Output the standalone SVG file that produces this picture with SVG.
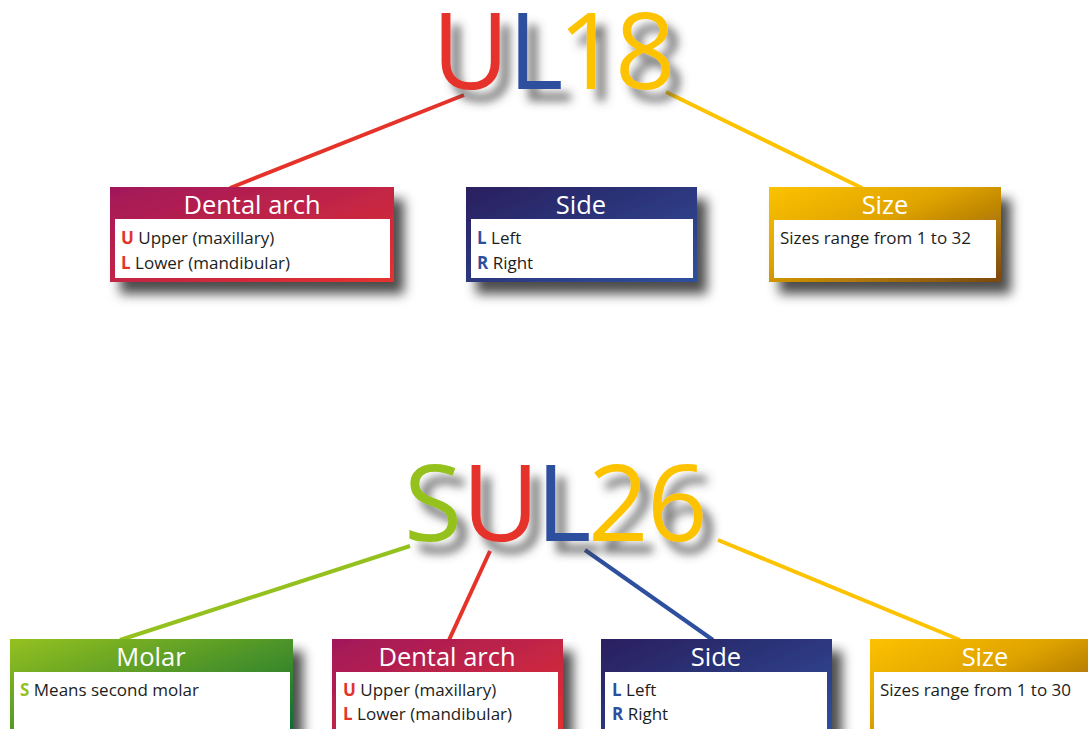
<svg xmlns="http://www.w3.org/2000/svg" width="1088" height="729" viewBox="0 0 1088 729">
<defs>
<filter id="tsh" x="-20%" y="-20%" width="150%" height="160%">
<feGaussianBlur in="SourceAlpha" stdDeviation="5"/>
<feOffset dx="10" dy="12" result="b"/>
<feFlood flood-color="#444" flood-opacity="0.75"/>
<feComposite in2="b" operator="in"/>
<feMerge><feMergeNode/><feMergeNode in="SourceGraphic"/></feMerge>
</filter>
<filter id="bsh" x="-10%" y="-10%" width="130%" height="150%">
<feGaussianBlur in="SourceAlpha" stdDeviation="6"/>
<feOffset dx="10" dy="12" result="b"/>
<feFlood flood-color="#000" flood-opacity="0.7"/>
<feComposite in2="b" operator="in"/>
<feMerge><feMergeNode/><feMergeNode in="SourceGraphic"/></feMerge>
</filter>
<linearGradient id="gRed" x1="0" y1="0" x2="1" y2="1"><stop offset="0" stop-color="#a1185c"/><stop offset="1" stop-color="#e5322e"/></linearGradient>
<linearGradient id="gBlue" x1="0" y1="0" x2="1" y2="1"><stop offset="0" stop-color="#2a1f5e"/><stop offset="1" stop-color="#2f509e"/></linearGradient>
<linearGradient id="gYel" x1="0" y1="0" x2="1" y2="1"><stop offset="0" stop-color="#fcc200"/><stop offset="0.4" stop-color="#e0a400"/><stop offset="1" stop-color="#7a4712"/></linearGradient>
<linearGradient id="gGrn" x1="0" y1="0" x2="1" y2="1"><stop offset="0" stop-color="#95c11f"/><stop offset="1" stop-color="#056833"/></linearGradient>
</defs>
<style>
.big{font-family:"Open Sans","Noto Sans",sans-serif;font-size:106px;}
.hd{font-family:"Open Sans","Noto Sans",sans-serif;font-size:25.5px;fill:#fff;text-anchor:middle;}
.tx{font-family:"Open Sans","Noto Sans",sans-serif;font-size:17px;fill:#1d1d1b;}
.k{font-weight:bold;}
.con{fill:none;stroke-width:4;}
</style>
<rect width="1088" height="729" fill="#fff"/>
<g id="connectors">
<line class="con" x1="464" y1="95" x2="230" y2="188" stroke="#e5332a"/>
<line class="con" x1="666" y1="92" x2="862" y2="188" stroke="#fdc300"/>
<line class="con" x1="410" y1="546" x2="120" y2="640" stroke="#95c11f"/>
<line class="con" x1="490" y1="551" x2="449" y2="640" stroke="#e5332a"/>
<line class="con" x1="585" y1="550" x2="713" y2="640" stroke="#2d4f9e"/>
<line class="con" x1="718" y1="540" x2="960" y2="640" stroke="#fdc300"/>
</g>
<g id="code1" filter="url(#tsh)">
<text class="big" y="89"><tspan x="432" fill="#e5332a">U</tspan><tspan x="508" fill="#2d4f9e">L</tspan><tspan x="558" fill="#fdc300">1</tspan><tspan x="615" fill="#fdc300">8</tspan></text>
</g>
<g id="code2" filter="url(#tsh)">
<text class="big" y="541"><tspan x="404" fill="#95c11f">S</tspan><tspan x="462" fill="#e5332a">U</tspan><tspan x="536" fill="#2d4f9e">L</tspan><tspan x="588" fill="#fdc300">2</tspan><tspan x="647" fill="#fdc300">6</tspan></text>
</g>
<g id="arch1">
<rect x="110" y="187" width="284" height="95" fill="url(#gRed)" filter="url(#bsh)"/>
<rect x="115" y="219" width="275" height="59" fill="#fff"/>
<text class="hd" x="252" y="214">Dental arch</text>
<text class="tx" x="121" y="244"><tspan class="k" fill="#e5332a">U</tspan> Upper (maxillary)</text>
<text class="tx" x="121" y="269"><tspan class="k" fill="#e5332a">L</tspan> Lower (mandibular)</text>
</g>
<g id="side1">
<rect x="466" y="187" width="231" height="95" fill="url(#gBlue)" filter="url(#bsh)"/>
<rect x="471" y="219" width="222" height="59" fill="#fff"/>
<text class="hd" x="581" y="214">Side</text>
<text class="tx" x="477" y="244"><tspan class="k" fill="#2d4f9e">L</tspan> Left</text>
<text class="tx" x="477" y="269"><tspan class="k" fill="#2d4f9e">R</tspan> Right</text>
</g>
<g id="size1">
<rect x="769" y="187" width="232" height="95" fill="url(#gYel)" filter="url(#bsh)"/>
<rect x="774" y="220" width="222" height="58" fill="#fff"/>
<text class="hd" x="885" y="214">Size</text>
<text class="tx" x="780" y="244">Sizes range from 1 to 32</text>
</g>
<g id="molar2">
<rect x="10" y="639" width="283" height="100" fill="url(#gGrn)" filter="url(#bsh)"/>
<rect x="14" y="672" width="276" height="67" fill="#fff"/>
<text class="hd" x="151" y="666">Molar</text>
<text class="tx" x="20" y="696"><tspan class="k" fill="#95c11f">S</tspan> Means second molar</text>
</g>
<g id="arch2">
<rect x="332" y="639" width="231" height="100" fill="url(#gRed)" filter="url(#bsh)"/>
<rect x="336" y="672" width="222" height="67" fill="#fff"/>
<text class="hd" x="447" y="666">Dental arch</text>
<text class="tx" x="343" y="696"><tspan class="k" fill="#e5332a">U</tspan> Upper (maxillary)</text>
<text class="tx" x="343" y="720"><tspan class="k" fill="#e5332a">L</tspan> Lower (mandibular)</text>
</g>
<g id="side2">
<rect x="601" y="639" width="231" height="100" fill="url(#gBlue)" filter="url(#bsh)"/>
<rect x="605" y="672" width="222" height="67" fill="#fff"/>
<text class="hd" x="716" y="666">Side</text>
<text class="tx" x="612" y="696"><tspan class="k" fill="#2d4f9e">L</tspan> Left</text>
<text class="tx" x="612" y="720"><tspan class="k" fill="#2d4f9e">R</tspan> Right</text>
</g>
<g id="size2">
<rect x="870" y="639" width="230" height="100" fill="url(#gYel)" filter="url(#bsh)"/>
<rect x="874" y="672" width="222" height="67" fill="#fff"/>
<text class="hd" x="985" y="666">Size</text>
<text class="tx" x="880" y="696">Sizes range from 1 to 30</text>
</g>
</svg>
